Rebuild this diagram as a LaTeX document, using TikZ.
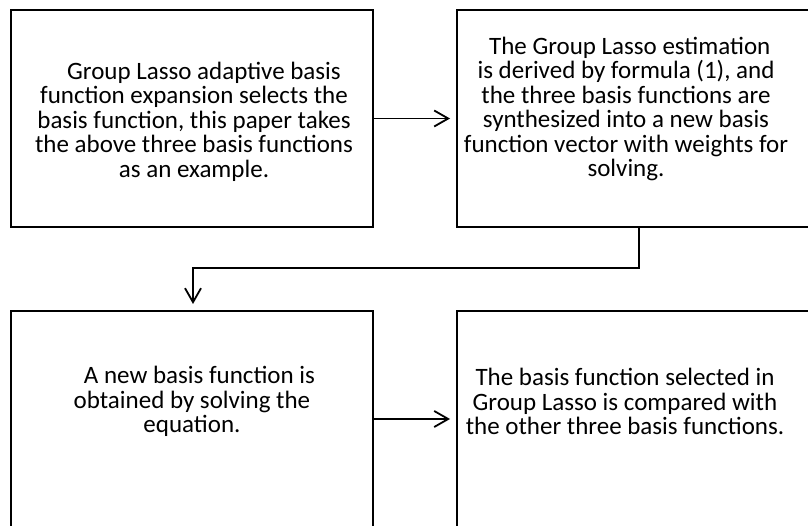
\documentclass[tikz,border=0pt]{standalone}
\usepackage{fontspec}
\setmainfont{Carlito}
\usetikzlibrary{arrows.meta}
\begin{document}
\begin{tikzpicture}[x=1pt,y=-1pt,
  box/.style={draw=black,line width=2pt,rectangle,inner sep=0pt},
  txt/.style={align=center,inner sep=0pt,font=\fontsize{25}{24.5}\selectfont},
  conn/.style={line width=1.8pt,-{Straight Barb[length=14pt,width=16pt,line width=1.8pt]},shorten >=6pt}]
\useasboundingbox (0,0) rectangle (808,526);
\clip (0,0) rectangle (808,526);
\node[box,minimum width=362pt,minimum height=217pt] (tl) at (192,118.5) {};
\node[box,minimum width=364pt,minimum height=217pt] (tr) at (639,118.5) {};
\node[box,minimum width=362pt,minimum height=218pt] (bl) at (192,420) {};
\node[box,minimum width=364pt,minimum height=218pt] (br) at (639,420) {};
\node[txt] (t1) at (194,121.5) {\hspace*{0.8em}Group Lasso adaptive basis\\function expansion selects the\\basis function, this paper takes\\the above three basis functions\\as an example.};
\node[txt] (t2) at (626,109) {\hspace*{0.3em}The Group Lasso estimation\\is derived by formula (1), and\\the three basis functions are\\synthesized into a new basis\\function vector with weights for\\solving.};
\node[txt] (t3) at (192,401.5) {\hspace*{0.6em}A new basis function is\\obtained by solving the\\equation.};
\node[txt] (t4) at (625,401.5) {The basis function selected in\\Group Lasso is compared with\\the other three basis functions.};
\coordinate (c1) at (639,268);
\coordinate (c2) at (193,268);
\draw[conn] (tl.east) -- (tr.west |- tl.east);
\draw[conn] (tr.south) -- (c1) -- (c2) -- (c2 |- bl.north);
\draw[conn] (bl.east |- 0,419) -- (br.west |- 0,419);
\end{tikzpicture}
\end{document}
